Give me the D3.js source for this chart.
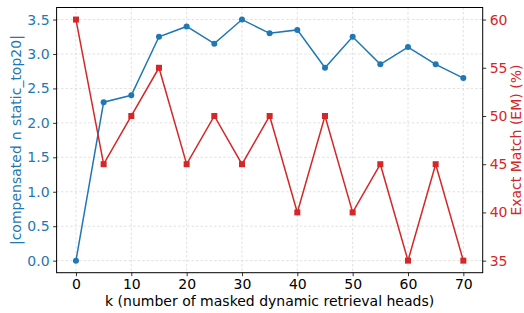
<!doctype html>
<html>
<head>
<script src="https://d3js.org/d3.v7.min.js"></script>
<style>
body { margin: 0; background: #fff; }
svg { font-family: "DejaVu Sans", sans-serif; }
.grid line { stroke: #d9d9d9; stroke-dasharray: 2.5,2; stroke-width: 0.8; }
</style>
</head>
<body>
<svg width="524" height="313" id="chart"></svg>
<script>
var kValues = [0, 5, 10, 15, 20, 25, 30, 35, 40, 45, 50, 55, 60, 65, 70];
var overlap = [0, 2.3, 2.4, 3.25, 3.4, 3.15, 3.5, 3.3, 3.35, 2.8, 3.25, 2.85, 3.1, 2.85, 2.65];
var emScore = [60, 45, 50, 55, 45, 50, 45, 50, 40, 50, 40, 45, 35, 45, 35];
var xTicks = [0, 10, 20, 30, 40, 50, 60, 70];
var leftTicks = [0, 0.5, 1, 1.5, 2, 2.5, 3, 3.5];
var rightTicks = [35, 40, 45, 50, 55, 60];

var blue = "#1f77b4", red = "#d62728";
var svg = d3.select("#chart");
var L = 56.6, R = 482.7, T = 7.5, B = 272.7;

var x = d3.scaleLinear().domain([-3.5, 73.5]).range([L, R]);
var yL = d3.scaleLinear().domain([-0.175, 3.675]).range([B, T]);
var yR = d3.scaleLinear().domain([33.75, 61.25]).range([B, T]);

// grid
var grid = svg.append("g").attr("class", "grid");
grid.selectAll(".gx").data(xTicks).enter().append("line")
  .attr("x1", d => x(d)).attr("x2", d => x(d)).attr("y1", T).attr("y2", B);
grid.selectAll(".gy").data(leftTicks).enter().append("line")
  .attr("x1", L).attr("x2", R).attr("y1", d => yL(d)).attr("y2", d => yL(d));

// lines
var lineL = d3.line().x((d, i) => x(kValues[i])).y(d => yL(d));
var lineR = d3.line().x((d, i) => x(kValues[i])).y(d => yR(d));

svg.append("path").datum(overlap).attr("d", lineL)
  .attr("fill", "none").attr("stroke", blue).attr("stroke-width", 1.5);
svg.selectAll(".dotL").data(overlap).enter().append("circle")
  .attr("cx", (d, i) => x(kValues[i])).attr("cy", d => yL(d)).attr("r", 3).attr("fill", blue);

svg.append("path").datum(emScore).attr("d", lineR)
  .attr("fill", "none").attr("stroke", red).attr("stroke-width", 1.5);
svg.selectAll(".dotR").data(emScore).enter().append("rect")
  .attr("x", (d, i) => x(kValues[i]) - 3).attr("y", d => yR(d) - 3)
  .attr("width", 6).attr("height", 6).attr("fill", red);

// axes
function styleAxis(g, color) {
  g.select(".domain").remove();
  g.selectAll(".tick line").attr("stroke", "#000").attr("stroke-width", 0.8);
  g.selectAll(".tick text").attr("fill", color).style("font-size", "14px")
    .style("font-family", "DejaVu Sans");
}
svg.append("g").attr("transform", "translate(0," + B + ")")
  .call(d3.axisBottom(x).tickValues(xTicks).tickSize(3.5).tickPadding(2.5))
  .call(g => styleAxis(g, "#000"));
svg.append("g").attr("transform", "translate(" + L + ",0)")
  .call(d3.axisLeft(yL).tickValues(leftTicks).tickFormat(d3.format(".1f")).tickSize(3.5).tickPadding(3.5))
  .call(g => styleAxis(g, blue));
svg.append("g").attr("transform", "translate(" + R + ",0)")
  .call(d3.axisRight(yR).tickValues(rightTicks).tickSize(3.5).tickPadding(3.5))
  .call(g => styleAxis(g, red));

// frame
svg.append("rect").attr("x", L).attr("y", T).attr("width", R - L).attr("height", B - T)
  .attr("fill", "none").attr("stroke", "#000").attr("stroke-width", 1);

// labels
svg.append("text").attr("x", (L + R) / 2).attr("y", 306).attr("text-anchor", "middle")
  .style("font-size", "14px").text("k (number of masked dynamic retrieval heads)");
svg.append("text").attr("transform", "translate(21," + (T + B) / 2 + ") rotate(-90)")
  .attr("text-anchor", "middle").attr("fill", blue).style("font-size", "14px")
  .text("|compensated \u2229 static_top20|");
svg.append("text").attr("transform", "translate(521," + (T + B) / 2 + ") rotate(-90)")
  .attr("text-anchor", "middle").attr("fill", red).style("font-size", "14px")
  .text("Exact Match (EM) (%)");
</script>
</body>
</html>
